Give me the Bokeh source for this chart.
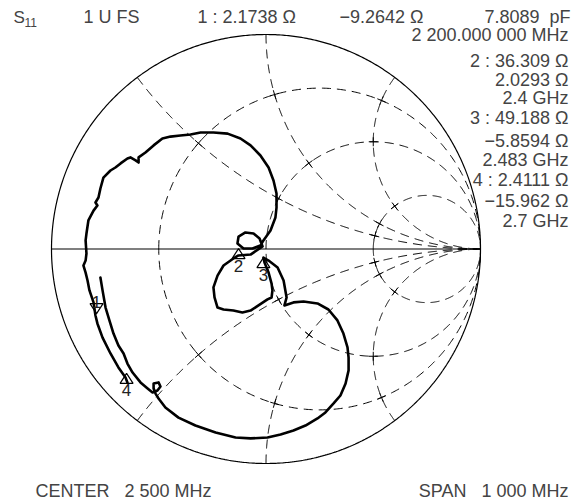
import numpy as np
from bokeh.plotting import figure
from bokeh.models import Range1d, Label
from bokeh.embed import file_html
from bokeh.resources import INLINE

# ---------------- data (reflection coefficient, real / imaginary) ----------------
trace_re = [-0.646, -0.655, -0.688, -0.725, -0.762, -0.786, -0.795, -0.804, -0.823, -0.832,
            -0.841, -0.851, -0.841, -0.837, -0.841, -0.837, -0.828, -0.804, -0.786, -0.795,
            -0.781, -0.772, -0.758, -0.725, -0.702, -0.678, -0.646, -0.632, -0.608, -0.594,
            -0.594, -0.562, -0.524, -0.483, -0.445, -0.399, -0.352, -0.305, -0.245, -0.179,
            -0.119, -0.072, -0.026, 0.012, 0.035, 0.049, 0.049, 0.044, 0.021, -0.012,
            -0.026, -0.063, -0.105, -0.133, -0.128, -0.096, -0.058, -0.030, -0.016,
            -0.072, -0.128,
            -0.152, -0.198, -0.226, -0.245, -0.240, -0.226, -0.198, -0.152, -0.110, -0.072,
            -0.035, 0.007, 0.026, 0.030, 0.026, 0.012, -0.007, -0.012,
            0.012, 0.054, 0.082, 0.096, 0.086, 0.128, 0.175, 0.240, 0.291, 0.333,
            0.361, 0.380, 0.385, 0.385, 0.371, 0.347, 0.315, 0.277, 0.240, 0.184,
            0.128, 0.068, 0.007, -0.072, -0.142, -0.235, -0.329, -0.408, -0.469, -0.501,
            -0.515, -0.524, -0.524, -0.501, -0.492, -0.506, -0.529,
            -0.552, -0.585, -0.622, -0.646, -0.664, -0.688, -0.711, -0.730, -0.748, -0.762,
            -0.772]
trace_im = [-0.622, -0.599, -0.552, -0.487, -0.413, -0.347, -0.310, -0.249, -0.193, -0.147,
            -0.110, -0.077, -0.054, -0.021, 0.040, 0.072, 0.133, 0.179, 0.203, 0.217,
            0.240, 0.282, 0.333, 0.366, 0.380, 0.399, 0.422, 0.427, 0.413, 0.403,
            0.427, 0.450, 0.483, 0.515, 0.524, 0.529, 0.534, 0.543, 0.543, 0.538,
            0.515, 0.483, 0.436, 0.380, 0.319, 0.259, 0.193, 0.147, 0.086, 0.040,
            0.016, 0.002, 0.002, 0.026, 0.058, 0.077, 0.072, 0.049, 0.012,
            -0.026, -0.030,
            -0.044, -0.077, -0.124, -0.179, -0.226, -0.273, -0.282, -0.287, -0.296, -0.287,
            -0.263, -0.235, -0.226, -0.193, -0.161, -0.110, -0.063, -0.040,
            -0.054, -0.086, -0.147, -0.226, -0.263, -0.249, -0.245, -0.254, -0.282, -0.333,
            -0.394, -0.459, -0.506, -0.566, -0.627, -0.683, -0.720, -0.762, -0.790, -0.823,
            -0.846, -0.865, -0.879, -0.883, -0.879, -0.855, -0.823, -0.786, -0.739, -0.697,
            -0.674, -0.650, -0.627, -0.622, -0.641, -0.660, -0.669,
            -0.650, -0.622, -0.576, -0.534, -0.487, -0.450, -0.394, -0.333, -0.273, -0.193,
            -0.133]

marker_ids = ["1", "2", "3", "4"]
marker_re = [-0.790, -0.128, -0.012, -0.650]
marker_im = [-0.301, 0.002, -0.040, -0.580]
marker_dir = ["down", "up", "up", "up"]

r_circles = [1 / 3, 1, 3]      # constant-resistance graticule circles
x_arcs = [0.5, 1, 2]           # constant-reactance graticule arcs (+/-)

NB = "\u00a0"
header_left = ["1 U FS", "1 : 2.1738 \u03a9", "\u22129.2642 \u03a9"]
header_right = ["7.8089" + NB + NB + "pF", "2 200.000 000 MHz"]
readout = ["2 : 36.309 \u03a9", "2.0293 \u03a9", "2.4 GHz",
           "3 : 49.188 \u03a9", "\u22125.8594 \u03a9", "2.483 GHz",
           "4 : 2.4111 \u03a9", "\u221215.962 \u03a9", "2.7 GHz"]
footer = ["CENTER" + NB * 3 + "2 500 MHz", "SPAN" + NB * 3 + "1 000 MHz"]

# ---------------- layout ----------------
W, H = 579, 504
CX, CY, R = 265.5, 248.5, 214.5     # chart centre / radius in canvas px
FONT = "Liberation Sans"


def X(px):  # canvas px -> data
    return (px - CX) / R


def Y(py):
    return (CY - py) / R


p = figure(width=W, height=H, output_backend="svg", toolbar_location=None,
           x_range=Range1d(-CX / R, (W - CX) / R), y_range=Range1d(-(H - CY) / R, CY / R),
           x_axis_type=None, y_axis_type=None, min_border=0, outline_line_color=None)
p.background_fill_color = "white"
p.border_fill_color = "white"

DASH = "9 6"
# outer circle
t = np.linspace(0, 2 * np.pi, 721)
p.line(np.cos(t), np.sin(t), line_color="black", line_width=1.2)
# real axis
p.line([-1, 1], [0, 0], line_color="black", line_width=1.1)

# resistance circles
for r in r_circles:
    c, a = r / (1 + r), 1 / (1 + r)
    th = np.linspace(np.pi, -np.pi, 721)
    p.line(c + a * np.cos(th), a * np.sin(th), line_color="black", line_width=1, line_dash=DASH)

# reactance arcs
for xv in x_arcs:
    for s in (1, -1):
        x = s * xv
        P = complex(x * x - 1, 2 * x) / (x * x + 1)
        cy = 1 / x
        a = 1 / abs(x)
        end = np.arctan2(P.imag - cy, P.real - 1)
        start = -np.pi / 2 if x > 0 else np.pi / 2
        if x > 0:
            if end > start:
                end -= 2 * np.pi
        else:
            if end < start:
                end += 2 * np.pi
        th = np.linspace(end, start, 400)
        p.line(1 + a * np.cos(th), cy + a * np.sin(th), line_color="black", line_width=1,
               line_dash=DASH)

# small crosses at graticule intersections
h = 4.5 / R
x0s, y0s, x1s, y1s = [], [], [], []
for r in r_circles:
    for xv in x_arcs:
        for s in (1, -1):
            z = complex(r, s * xv)
            g = (z - 1) / (z + 1)
            for cen in (complex(r / (1 + r), 0), complex(1, 1 / (s * xv))):
                d = g - cen
                tdir = complex(-d.imag, d.real) / abs(d)
                x0s.append((g - h * tdir).real); y0s.append((g - h * tdir).imag)
                x1s.append((g + h * tdir).real); y1s.append((g + h * tdir).imag)
p.segment(x0s, y0s, x1s, y1s, line_color="black", line_width=1)

# measured trace
p.line(trace_re, trace_im, line_color="black", line_width=2.6, line_join="round", line_cap="round")

# markers (hollow triangles, apex at the marker point)
tw, th_ = 6.5 / R, 10 / R
xs, ys = [], []
for mx, my, d in zip(marker_re, marker_im, marker_dir):
    sgn = -1 if d == "up" else 1
    xs.append([mx, mx - tw, mx + tw])
    ys.append([my, my + sgn * th_, my + sgn * th_])
p.patches(xs, ys, fill_color="white", fill_alpha=0.0, line_color="black", line_width=1.2)
for mid, mx, my, d in zip(marker_ids, marker_re, marker_im, marker_dir):
    if d == "up":
        p.add_layout(Label(x=mx, y=my - 11 / R, text=mid, text_align="center", text_baseline="top",
                           text_font=FONT, text_font_size="17px", text_color="#222222"))
    else:
        p.add_layout(Label(x=mx, y=my + 12 / R, text=mid, text_align="center",
                           text_baseline="alphabetic",
                           text_font=FONT, text_font_size="17px", text_color="#222222"))

# header
p.add_layout(Label(x=X(13), y=Y(26), text="S", text_font=FONT, text_font_size="17px"))
p.add_layout(Label(x=X(24), y=Y(26), text="11", text_font=FONT, text_font_size="12px"))
for txt, px in zip(header_left, [83, 197, 339]):
    p.add_layout(Label(x=X(px), y=Y(26), text=txt, text_font=FONT, text_font_size="18px"))
p.add_layout(Label(x=X(570), y=Y(26), text=header_right[0], text_align="right",
                   text_font=FONT, text_font_size="18px"))
p.add_layout(Label(x=X(568), y=Y(44.5), text=header_right[1], text_align="right",
                   text_font=FONT, text_font_size="18px"))
for txt, py in zip(readout, [70.5, 89, 107.5, 127, 150.7, 169, 189, 210.7, 230]):
    p.add_layout(Label(x=X(568), y=Y(py), text=txt, text_align="right",
                       text_font=FONT, text_font_size="18px"))
# footer
p.add_layout(Label(x=X(35), y=Y(500), text=footer[0], text_font=FONT, text_font_size="18px"))
p.add_layout(Label(x=X(568), y=Y(500), text=footer[1], text_align="right",
                   text_font=FONT, text_font_size="18px"))

open("out.html", "w").write(file_html(p, INLINE))
